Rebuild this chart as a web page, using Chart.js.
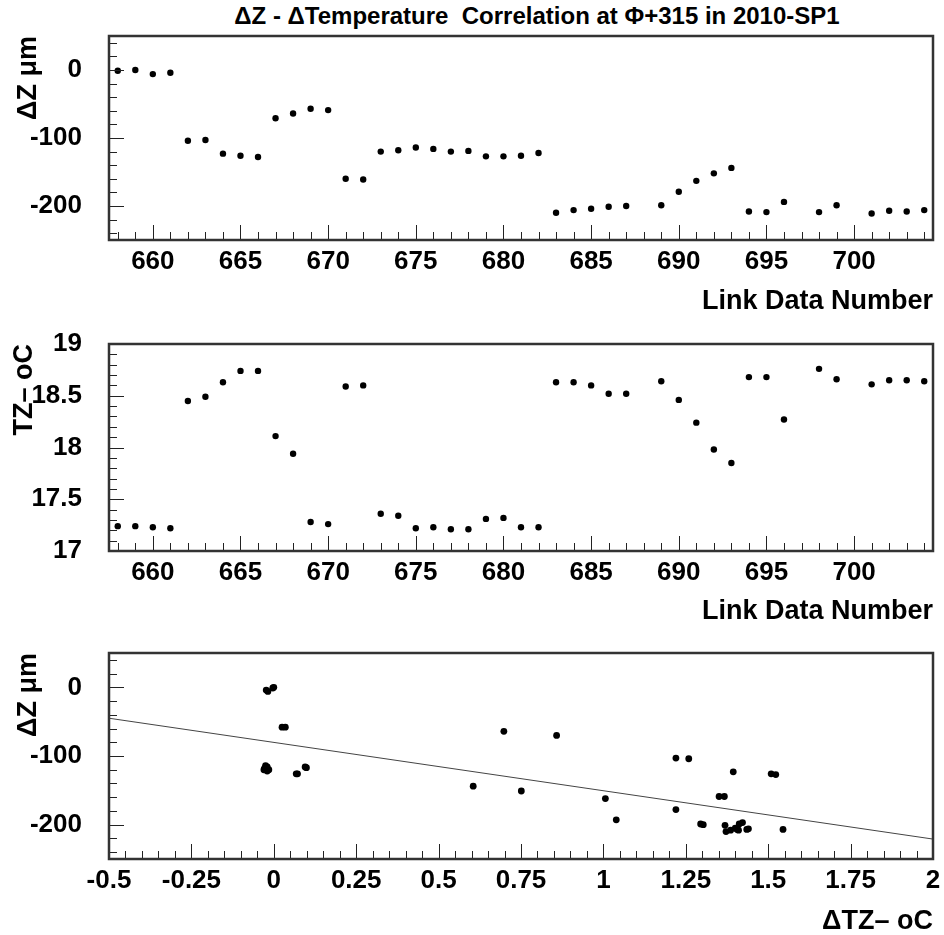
<!DOCTYPE html>
<html>
<head>
<meta charset="utf-8">
<script src="https://cdn.jsdelivr.net/npm/chart.js@4.4.1/dist/chart.umd.min.js"></script>
<style>
  body { margin: 0; background: #fff; }
  #wrap { position: relative; width: 944px; height: 935px; overflow: hidden; }
  #title { position: absolute; left: 537px; top: 4px; transform: translateX(-50%); white-space: nowrap;
           font: bold 24px/24px "Liberation Sans", Arial, sans-serif; color: #000; }
  canvas { position: absolute; left: 0; }
</style>
</head>
<body>
<div id="wrap">
  <div id="title">ΔZ - ΔTemperature&nbsp; Correlation at Φ+315 in 2010-SP1</div>
  <canvas id="c1" width="944" height="325" style="top:0px"></canvas>
  <canvas id="c2" width="944" height="310" style="top:325px"></canvas>
  <canvas id="c3" width="944" height="300" style="top:635px"></canvas>
</div>
<script>
// link data numbers (x) shared by the two upper panels
const linkNumbers = [658, 659, 660, 661, 662, 663, 664, 665, 666, 667, 668, 669, 670, 671, 672,
  673, 674, 675, 676, 677, 678, 679, 680, 681, 682, 683, 684, 685, 686, 687,
  689, 690, 691, 692, 693, 694, 695, 696, 698, 699, 701, 702, 703, 704];

// ΔZ in μm
const deltaZ = [-1, 0, -6, -4, -104, -103, -123, -126, -128, -71, -64, -57, -59, -160, -161,
  -120, -118, -114, -116, -120, -119, -127, -127, -126, -122, -210, -206, -204, -201, -200,
  -199, -179, -163, -152, -144, -208, -209, -194, -209, -199, -211, -207, -208, -206];

// TZ temperature in oC
const tempTZ = [17.24, 17.24, 17.23, 17.22, 18.45, 18.49, 18.63, 18.74, 18.74, 18.11, 17.94, 17.28, 17.26, 18.59, 18.60,
  17.36, 17.34, 17.22, 17.23, 17.21, 17.21, 17.31, 17.32, 17.23, 17.23, 18.63, 18.63, 18.60, 18.52, 18.52,
  18.64, 18.46, 18.24, 17.98, 17.85, 18.68, 18.68, 18.27, 18.76, 18.66, 18.61, 18.65, 18.65, 18.64];

// bottom panel: ΔTZ (x) against ΔZ (y)
const corrDeltaT = [-0.003, 0.0, -0.018, -0.023, 1.22, 1.259, 1.394, 1.509, 1.523, 0.858, 0.698, 0.025, 0.035, 1.351, 1.367,
  0.099, 0.095, -0.025, -0.02, -0.03, -0.028, 0.068, 0.072, -0.02, -0.015, 1.386, 1.405, 1.369, 1.295, 1.303,
  1.412, 1.22, 1.006, 0.751, 0.605, 1.44, 1.435, 1.039, 1.545, 1.422, 1.372, 1.406, 1.41, 1.40];
const corrDeltaZ = [-1, 0, -6, -4, -103, -104, -123, -126, -127, -70, -64, -58, -58, -159, -159,
  -117, -116, -114, -116, -120, -118, -126, -126, -122, -120, -208, -206, -201, -199, -200,
  -199, -178, -162, -151, -144, -206, -207, -193, -207, -197, -210, -207, -208, -205];

// straight line fit, end points
const fitX = [-0.5, 2];
const fitY = [-45, -221];

// tick labels
const linkTicks = [660, 665, 670, 675, 680, 685, 690, 695, 700];
const dzTicks = [0, -100, -200];
const tempTicks = [17, 17.5, 18, 18.5, 19];
const dtTicks = [-0.5, -0.25, 0, 0.25, 0.5, 0.75, 1, 1.25, 1.5, 1.75, 2];

const FONT = '"Liberation Sans", Arial, sans-serif';

// ROOT style frame with inner ticks
const rootFrame = {
  id: 'rootFrame',
  afterDatasetsDraw(chart, args, opts) {
    const { ctx, chartArea: a } = chart;
    const x = chart.scales.x, y = chart.scales.y;
    ctx.save();
    ctx.strokeStyle = '#222';
    ctx.lineWidth = 1;
    const tick = (scale, minor, major, horiz) => {
      const start = Math.ceil(scale.min / minor - 1e-6);
      const end = Math.floor(scale.max / minor + 1e-6);
      for (let i = start; i <= end; i++) {
        const v = i * minor;
        const isMajor = Math.abs(v / major - Math.round(v / major)) < 1e-6;
        const len = isMajor ? 15 : 8;
        const p = Math.round(scale.getPixelForValue(v)) + 0.5;
        ctx.beginPath();
        if (horiz) { ctx.moveTo(p, a.bottom); ctx.lineTo(p, a.bottom - len); }
        else { ctx.moveTo(a.left, p); ctx.lineTo(a.left + len, p); }
        ctx.stroke();
      }
    };
    tick(x, opts.xMinor, opts.xMajor, true);
    tick(y, opts.yMinor, opts.yMajor, false);
    ctx.lineWidth = 2.5;
    ctx.strokeStyle = '#333';
    ctx.strokeRect(a.left, a.top, a.right - a.left, a.bottom - a.top);
    ctx.restore();
  }
};

function axis(min, max, tickList, opt) {
  return {
    type: 'linear',
    min: min,
    max: max,
    afterBuildTicks: s => { s.ticks = tickList.map(v => ({ value: v })); },
    afterFit: s => {
      opt.fit(s);
      s.paddingTop = 0; s.paddingBottom = 0; s.paddingLeft = 0; s.paddingRight = 0;
    },
    grid: { display: false, drawTicks: false },
    border: { display: false },
    ticks: {
      autoSkip: false, maxRotation: 0, minRotation: 0,
      padding: opt.pad, color: '#000',
      font: { family: FONT, size: 26, weight: 'bold' },
      callback: v => String(v)
    },
    title: {
      display: true, text: opt.title, align: 'end', color: '#000',
      font: { family: FONT, size: 27, weight: 'bold', lineHeight: opt.lh || 1.2 },
      padding: opt.tpad
    }
  };
}

function panel(id, top, xAxis, yAxis, datasets, frame) {
  return new Chart(document.getElementById(id), {
    type: 'scatter',
    data: { datasets: datasets },
    options: {
      responsive: false,
      animation: false,
      devicePixelRatio: 1,
      layout: { padding: { top: top, right: 11, left: 0, bottom: 0 } },
      plugins: { legend: { display: false }, tooltip: { enabled: false }, rootFrame: frame },
      scales: { x: xAxis, y: yAxis }
    },
    plugins: [rootFrame]
  });
}

const dots = (data, r) => ({
  data: data, pointRadius: r, pointBackgroundColor: '#000', pointBorderWidth: 0, showLine: false
});

panel('c1', 36,
  axis(657.5, 704.5, linkTicks, { fit: s => { s.height = 85; }, pad: 6, title: 'Link Data Number', tpad: { top: 0, bottom: 7 } }),
  axis(-250, 50, dzTicks, { fit: s => { s.width = 109; }, pad: 27, title: 'ΔZ μm', tpad: { top: 12, bottom: 0 } }),
  [dots(linkNumbers.map((n, i) => ({ x: n, y: deltaZ[i] })), 3.2)],
  { xMinor: 1, xMajor: 5, yMinor: 20, yMajor: 100 });

panel('c2', 19,
  axis(657.5, 704.5, linkTicks, { fit: s => { s.height = 84; }, pad: 6, title: 'Link Data Number', tpad: { top: 0, bottom: 7 } }),
  axis(17, 19, tempTicks, { fit: s => { s.width = 109; }, pad: 27, title: 'TZ– oC', tpad: { top: 8, bottom: 0 } }),
  [dots(linkNumbers.map((n, i) => ({ x: n, y: tempTZ[i] })), 3.2)],
  { xMinor: 1, xMajor: 5, yMinor: 0.1, yMajor: 0.5 });

panel('c3', 18,
  axis(-0.5, 2, dtTicks, { fit: s => { s.height = 76; }, pad: 6, title: 'ΔTZ– oC', lh: 1, tpad: { top: 0, bottom: 0 } }),
  axis(-250, 50, dzTicks, { fit: s => { s.width = 109; }, pad: 27, title: 'ΔZ μm', tpad: { top: 12, bottom: 0 } }),
  [
    dots(corrDeltaT.map((t, i) => ({ x: t, y: corrDeltaZ[i] })), 3.4),
    {
      type: 'line', data: fitX.map((t, i) => ({ x: t, y: fitY[i] })),
      borderColor: '#444', borderWidth: 1, pointRadius: 0, fill: false
    }
  ],
  { xMinor: 0.05, xMajor: 0.25, yMinor: 20, yMajor: 100 });
</script>
</body>
</html>
